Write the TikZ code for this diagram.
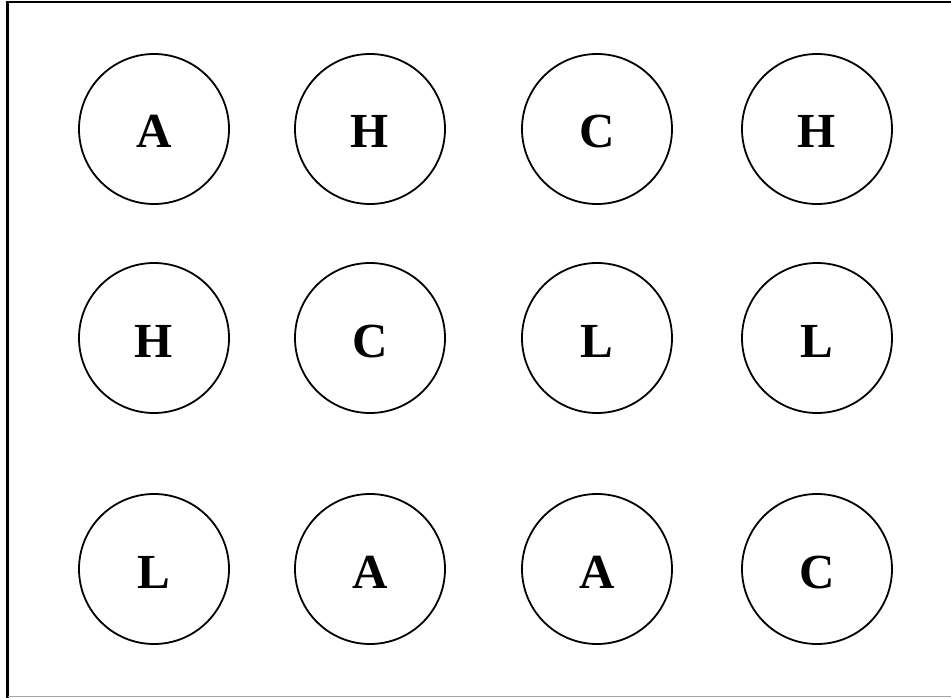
\documentclass[tikz,border=0pt]{standalone}
\usepackage{fontspec}
\setmainfont{Liberation Serif}
\begin{document}
\begin{tikzpicture}[x=1pt,y=-1pt,
  letterbox/.style={circle,draw=black,line width=1.8pt,minimum size=150pt,inner sep=0pt,
    text height=38pt,text depth=0pt,
    font=\fontsize{49}{49}\selectfont\bfseries}]
\useasboundingbox (0,0) rectangle (951,698);
\fill[white] (0,0) rectangle (951,698);
\draw[line width=2.2pt] (7.5,698) -- (7.5,2) -- (951,2);
\draw[line width=1pt,gray!70] (7.5,696.5) -- (951,696.5);
\node[letterbox] (a1) at (154,129) {A};
\node[letterbox] (b1) at (370,129) {H};
\node[letterbox] (c1) at (597,129) {C};
\node[letterbox] (d1) at (817,129) {H};
\node[letterbox] (a2) at (154,338) {H};
\node[letterbox] (b2) at (370,338) {C};
\node[letterbox] (c2) at (597,338) {L};
\node[letterbox] (d2) at (817,338) {L};
\node[letterbox] (a3) at (154,569) {L};
\node[letterbox] (b3) at (370,569) {A};
\node[letterbox] (c3) at (597,569) {A};
\node[letterbox] (d3) at (817,569) {C};
\end{tikzpicture}
\end{document}
